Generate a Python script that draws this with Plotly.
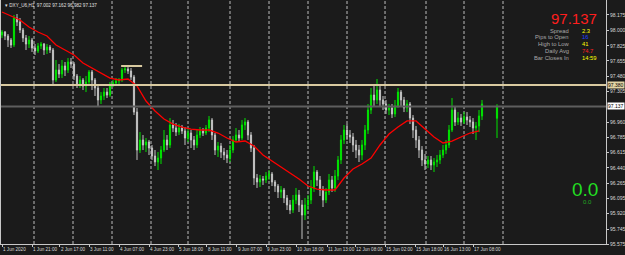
import plotly.graph_objects as go

# ---------------- data ----------------
bar_index = list(range(161)) + [165]

opens = [97.948, 97.982, 97.936, 97.891, 97.834, 98.141, 98.095, 98.004, 97.914, 97.845,
         97.891, 97.800, 97.766, 97.823, 97.845, 97.777, 97.811, 97.777, 97.437, 97.550,
         97.505, 97.596, 97.550, 97.641, 97.618, 97.482, 97.391, 97.437, 97.369, 97.414,
         97.528, 97.437, 97.346, 97.210, 97.255, 97.300, 97.266, 97.391, 97.403, 97.425,
         97.437, 97.550, 97.562, 97.539, 97.471, 97.073, 96.642, 96.756, 96.699, 96.733,
         96.665, 96.574, 96.506, 96.551, 96.642, 96.756, 96.699, 96.926, 96.892, 96.846,
         96.892, 96.858, 96.778, 96.835, 96.756, 96.699, 96.812, 96.858, 96.835, 96.892,
         96.983, 96.812, 96.642, 96.687, 96.619, 96.585, 96.551, 96.642, 96.756, 96.812,
         96.778, 96.926, 96.960, 96.812, 96.665, 96.324, 96.279, 96.313, 96.301, 96.347,
         96.370, 96.279, 96.233, 96.166, 96.188, 96.097, 96.018, 95.961, 96.074, 96.131,
         96.018, 95.904, 96.018, 96.074, 96.211, 96.392, 96.301, 96.188, 96.074, 96.166,
         96.301, 96.211, 96.347, 96.529, 96.756, 96.869, 96.812, 96.790, 96.699, 96.642,
         96.585, 96.699, 96.869, 97.096, 97.266, 97.210, 97.323, 97.210, 97.164, 97.096,
         97.119, 97.051, 97.142, 97.300, 97.210, 97.119, 97.164, 97.005, 96.869, 96.756,
         96.642, 96.529, 96.483, 96.529, 96.472, 96.506, 96.529, 96.585, 96.642, 96.699,
         96.869, 97.096, 96.960, 97.005, 96.960, 97.017, 96.983, 96.960, 96.892, 96.915,
         97.028, 97.002]

highs = [98.004, 97.993, 97.959, 97.914, 98.175, 98.186, 98.141, 98.027, 97.948, 97.936,
         97.914, 97.845, 97.857, 97.868, 97.857, 97.845, 97.834, 97.800, 97.664, 97.618,
         97.664, 97.641, 97.686, 97.686, 97.641, 97.505, 97.482, 97.459, 97.482, 97.550,
         97.550, 97.459, 97.369, 97.300, 97.346, 97.346, 97.414, 97.437, 97.459, 97.459,
         97.573, 97.607, 97.596, 97.573, 97.494, 97.119, 96.846, 96.812, 96.778, 96.756,
         96.699, 96.642, 96.619, 96.687, 96.869, 96.812, 97.005, 96.983, 96.949, 96.937,
         96.926, 96.903, 96.892, 96.869, 96.801, 96.869, 96.903, 96.892, 96.926, 97.028,
         97.005, 96.835, 96.733, 96.722, 96.665, 96.642, 96.699, 96.801, 96.892, 96.869,
         96.983, 97.005, 96.983, 96.846, 96.699, 96.370, 96.358, 96.347, 96.392, 96.415,
         96.392, 96.301, 96.256, 96.233, 96.211, 96.131, 96.074, 96.131, 96.211, 96.188,
         96.074, 96.097, 96.131, 96.301, 96.460, 96.415, 96.347, 96.233, 96.211, 96.370,
         96.347, 96.415, 96.574, 96.812, 96.926, 96.937, 96.869, 96.835, 96.756, 96.699,
         96.756, 96.926, 97.164, 97.346, 97.380, 97.448, 97.369, 97.255, 97.210, 97.164,
         97.164, 97.210, 97.346, 97.323, 97.244, 97.210, 97.187, 97.039, 96.915, 96.801,
         96.687, 96.597, 96.574, 96.574, 96.551, 96.585, 96.642, 96.699, 96.756, 96.926,
         97.232, 97.142, 97.073, 97.051, 97.073, 97.073, 97.028, 97.005, 96.960, 97.096,
         97.210, 97.162]

lows = [97.914, 97.891, 97.811, 97.800, 97.811, 98.050, 97.970, 97.868, 97.777, 97.800,
        97.755, 97.721, 97.743, 97.789, 97.721, 97.732, 97.743, 97.391, 97.414, 97.459,
        97.459, 97.482, 97.516, 97.573, 97.437, 97.346, 97.346, 97.323, 97.300, 97.369,
        97.323, 97.255, 97.130, 97.164, 97.210, 97.232, 97.244, 97.357, 97.380, 97.391,
        97.414, 97.516, 97.505, 97.437, 97.039, 96.529, 96.608, 96.642, 96.619, 96.585,
        96.529, 96.460, 96.415, 96.483, 96.619, 96.642, 96.665, 96.846, 96.801, 96.812,
        96.824, 96.699, 96.733, 96.665, 96.642, 96.665, 96.778, 96.801, 96.812, 96.846,
        96.756, 96.585, 96.563, 96.551, 96.529, 96.494, 96.506, 96.608, 96.733, 96.733,
        96.756, 96.869, 96.756, 96.619, 96.245, 96.211, 96.222, 96.245, 96.267, 96.301,
        96.233, 96.166, 96.097, 96.097, 96.040, 95.961, 95.915, 95.927, 96.029, 95.938,
        95.632, 95.847, 95.961, 96.029, 96.166, 96.233, 96.120, 95.995, 96.040, 96.131,
        96.166, 96.166, 96.301, 96.483, 96.710, 96.756, 96.722, 96.619, 96.551, 96.506,
        96.529, 96.642, 96.824, 97.051, 97.142, 97.164, 97.142, 97.096, 97.051, 97.039,
        97.005, 97.017, 97.119, 97.142, 97.073, 97.073, 96.937, 96.778, 96.665, 96.551,
        96.460, 96.415, 96.438, 96.415, 96.392, 96.449, 96.483, 96.551, 96.597, 96.665,
        96.846, 96.915, 96.926, 96.915, 96.937, 96.926, 96.903, 96.824, 96.756, 96.846,
        96.983, 96.778]

closes = [97.982, 97.936, 97.891, 97.834, 98.141, 98.095, 98.004, 97.914, 97.845, 97.891,
          97.800, 97.766, 97.823, 97.845, 97.777, 97.811, 97.777, 97.437, 97.550, 97.505,
          97.596, 97.550, 97.641, 97.618, 97.482, 97.391, 97.437, 97.369, 97.414, 97.528,
          97.437, 97.346, 97.210, 97.255, 97.300, 97.266, 97.391, 97.403, 97.425, 97.437,
          97.550, 97.562, 97.539, 97.471, 97.073, 96.642, 96.756, 96.699, 96.733, 96.665,
          96.574, 96.506, 96.551, 96.642, 96.756, 96.699, 96.926, 96.892, 96.846, 96.892,
          96.858, 96.778, 96.835, 96.756, 96.699, 96.812, 96.858, 96.835, 96.892, 96.983,
          96.812, 96.642, 96.687, 96.619, 96.585, 96.551, 96.642, 96.756, 96.812, 96.778,
          96.926, 96.960, 96.812, 96.665, 96.324, 96.279, 96.313, 96.301, 96.347, 96.370,
          96.279, 96.233, 96.166, 96.188, 96.097, 96.018, 95.961, 96.074, 96.131, 96.018,
          95.904, 96.018, 96.074, 96.211, 96.392, 96.301, 96.188, 96.074, 96.166, 96.301,
          96.211, 96.347, 96.529, 96.756, 96.869, 96.812, 96.790, 96.699, 96.642, 96.585,
          96.699, 96.869, 97.096, 97.266, 97.210, 97.323, 97.210, 97.164, 97.096, 97.119,
          97.051, 97.142, 97.300, 97.210, 97.119, 97.164, 97.005, 96.869, 96.756, 96.642,
          96.529, 96.483, 96.529, 96.472, 96.506, 96.529, 96.585, 96.642, 96.699, 96.869,
          97.096, 96.960, 97.005, 96.960, 97.017, 96.983, 96.960, 96.892, 96.915, 97.028,
          97.164, 97.137]

ma_bars = list(range(0, 160, 3))
ma_values = [98.209, 98.163, 98.118, 98.038, 97.982, 97.936, 97.834, 97.777, 97.721, 97.630,
             97.573, 97.516, 97.459, 97.437, 97.448, 97.369, 97.198, 97.085, 96.994, 96.937,
             96.903, 96.880, 96.869, 96.869, 96.835, 96.778, 96.733, 96.744, 96.687, 96.585,
             96.517, 96.449, 96.381, 96.313, 96.233, 96.199, 96.188, 96.188, 96.324, 96.426,
             96.483, 96.551, 96.699, 96.824, 96.903, 96.972, 96.972, 96.880, 96.790, 96.722,
             96.744, 96.790, 96.835, 96.858]

day_breaks = [10.67, 23.67, 36.67, 49.67, 62, 76, 89, 102, 115, 127.67, 141.33, 154, 167]

time_tick_bars = [0, 10, 19.33, 29, 39, 49, 58.67, 68.33, 78.33, 88, 98, 108.33, 117.67,
                  127.67, 137.67, 147, 157]
time_tick_labels = ["1 Jun 2020", "1 Jun 21:00", "2 Jun 17:00", "3 Jun 11:00", "4 Jun 07:00",
                    "4 Jun 23:00", "5 Jun 18:00", "8 Jun 11:00", "9 Jun 07:00", "9 Jun 23:00",
                    "10 Jun 18:00", "11 Jun 13:00", "12 Jun 08:00", "15 Jun 02:00",
                    "15 Jun 18:00", "16 Jun 13:00", "17 Jun 08:00"]

price_ticks = [98.175, 98.000, 97.825, 97.655, 97.480, 97.305, 96.960, 96.785, 96.615,
               96.440, 96.265, 96.095, 95.920, 95.745, 95.575]
price_tick_labels = ["98.175", "98.000", "97.825", "97.655", "97.480", "97.305", "96.960",
                     "96.785", "96.615", "96.440", "96.265", "96.095", "95.920", "95.745",
                     "95.575"]

level_line = 97.380
bid_price = 97.137
short_level = 97.596
short_level_bars = [39.7, 46.7]

info_labels = ["Spread", "Pips to Open", "High to Low", "Daily Avg", "Bar Closes In"]
info_values = ["2.3", "16", "41", "74.7", "14:59"]
info_colors = ["#ffff00", "#2040ff", "#ffff00", "#ff2020", "#ffff00"]

# ---------------- style ----------------
BG = "#1b1b1b"
FRAME = "#c8c8c8"
BULL = "#00e400"
BEAR = "#c4c4c4"
FONT = "Liberation Sans"

fig = go.Figure()

fig.add_trace(go.Candlestick(
    x=bar_index, open=opens, high=highs, low=lows, close=closes,
    increasing=dict(line=dict(color=BULL, width=1), fillcolor=BULL),
    decreasing=dict(line=dict(color=BEAR, width=1), fillcolor=BEAR),
    whiskerwidth=0, hoverinfo="skip", showlegend=False,
))

fig.add_trace(go.Scatter(
    x=ma_bars, y=ma_values, mode="lines",
    line=dict(color="#ff0000", width=1.3), hoverinfo="skip", showlegend=False,
))

shapes = []
for b in day_breaks:
    shapes.append(dict(type="line", xref="x", yref="paper", x0=b, x1=b, y0=0, y1=1,
                       line=dict(color="#bdbdbd", width=1, dash="3px,2px"), layer="below"))
shapes.append(dict(type="line", xref="paper", yref="y", x0=0, x1=1, y0=level_line, y1=level_line,
                   line=dict(color="#d9caa0", width=2)))
shapes.append(dict(type="line", xref="paper", yref="y", x0=0, x1=1, y0=bid_price, y1=bid_price,
                   line=dict(color="#5e5e5e", width=2)))
shapes.append(dict(type="line", xref="x", yref="y", x0=short_level_bars[0], x1=short_level_bars[1],
                   y0=short_level, y1=short_level, line=dict(color="#d9caa0", width=2)))

annotations = []
annotations.append(dict(xref="paper", yref="paper", x=0.003, y=1.0, xanchor="left", yanchor="top",
                        yshift=-1, showarrow=False,
                        text="▾ DXY_U6,H1  97.002 97.162 96.982 97.137",
                        font=dict(family=FONT, size=4.6, color="#e0e0e0")))
# info panel
annotations.append(dict(xref="paper", yref="paper", x=0.9868, y=1 - 27.5 / 244, xanchor="right",
                        yanchor="bottom", showarrow=False, text="97.137", borderpad=0,
                        font=dict(family=FONT, size=15, color="#ff1e1e")))
row_y = [30.5, 37, 44, 51, 58]
for lbl, val, col, ypx in zip(info_labels, info_values, info_colors, row_y):
    yp = 1 - ypx / 244
    annotations.append(dict(xref="paper", yref="paper", x=0.9405, y=yp, xanchor="right",
                            yanchor="middle", showarrow=False, text=lbl, borderpad=0,
                            font=dict(family=FONT, size=5.8, color="#a8a8a8")))
    annotations.append(dict(xref="paper", yref="paper", x=0.9587, y=yp, xanchor="left",
                            yanchor="middle", showarrow=False, text=val, borderpad=0,
                            font=dict(family=FONT, size=5.8, color=col)))
annotations.append(dict(xref="paper", yref="paper", x=0.9645, y=0.2254, xanchor="center",
                        yanchor="middle", showarrow=False, text="0.0",
                        font=dict(family=FONT, size=19, color="#22dd22")))
annotations.append(dict(xref="paper", yref="paper", x=0.9694, y=0.172, xanchor="center",
                        yanchor="middle", showarrow=False, text="0.0",
                        font=dict(family=FONT, size=6, color="#22aa22")))
# price boxes on axis
annotations.append(dict(xref="paper", yref="y", x=1.0, y=level_line, xanchor="left",
                        yanchor="middle", xshift=1, showarrow=False, text="97.380",
                        bgcolor="#e3d4a4", borderpad=0,
                        font=dict(family=FONT, size=5, color="#000000")))
annotations.append(dict(xref="paper", yref="y", x=1.0, y=bid_price, xanchor="left",
                        yanchor="middle", xshift=1, showarrow=False, text="97.137",
                        bgcolor="#ffffff", borderpad=0,
                        font=dict(family=FONT, size=5, color="#000000")))

fig.update_layout(
    width=625, height=255,
    margin=dict(l=1, r=19, t=0, b=11, autoexpand=False),
    paper_bgcolor=BG, plot_bgcolor=BG,
    showlegend=False,
    boxgap=0.45,
    shapes=shapes,
    annotations=annotations,
    xaxis=dict(range=[-1 / 3, 201.33], showgrid=False, zeroline=False,
               rangeslider=dict(visible=False), automargin=False,
               showline=True, mirror=True, linecolor=FRAME, linewidth=1,
               tickmode="array", tickvals=time_tick_bars, ticktext=time_tick_labels,
               ticks="outside", ticklen=2, tickcolor=FRAME, tickangle=0,
               ticklabelposition="outside right",
               tickfont=dict(family=FONT, size=4.6, color="#d8d8d8")),
    yaxis=dict(range=[95.575, 98.345], side="right", showgrid=False, zeroline=False,
               automargin=False,
               showline=True, mirror=True, linecolor=FRAME, linewidth=1,
               tickmode="array", tickvals=price_ticks, ticktext=price_tick_labels,
               ticks="outside", ticklen=2, tickcolor=FRAME,
               tickfont=dict(family=FONT, size=5, color="#d8d8d8")),
)

fig.write_html("out.html", config={"displayModeBar": False})
